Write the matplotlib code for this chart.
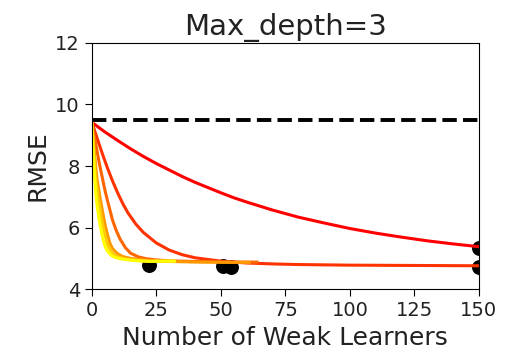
import matplotlib
matplotlib.use("Agg")
import matplotlib.pyplot as plt
import numpy as np

# Curve data (number of weak learners, RMSE)
x1 = [0, 5, 10, 15, 20, 25, 30, 35, 40, 45, 50, 55, 60, 70, 80, 90, 100, 110, 120, 130, 140, 150]
y1 = [9.42, 9.11, 8.83, 8.56, 8.31, 8.08, 7.87, 7.66, 7.47, 7.30, 7.13, 6.97, 6.83,
      6.57, 6.34, 6.15, 5.97, 5.82, 5.69, 5.57, 5.47, 5.38]

x2 = [0, 2, 4, 6, 8, 10, 12, 14, 17, 20, 25, 30, 35, 40, 50, 60, 70, 80, 100, 125, 150]
y2 = [9.42, 8.92, 8.42, 7.95, 7.52, 7.13, 6.78, 6.48, 6.12, 5.84, 5.50, 5.27, 5.12, 5.02, 4.91, 4.85, 4.82, 4.80, 4.78, 4.77, 4.76]

x3 = [0, 1, 2, 3, 4, 5, 6, 7, 8, 9.5, 11, 13, 15, 18, 21, 25, 30, 40, 50, 54, 64]
y3 = [9.42, 8.95, 8.50, 8.05, 7.65, 7.25, 6.90, 6.58, 6.25, 5.90, 5.62, 5.35, 5.17, 5.05, 4.99, 4.95, 4.92, 4.90, 4.89, 4.88, 4.88]

x4 = [0, 0.5, 1, 1.5, 2, 3, 4, 5, 6, 7, 8, 10, 12, 15, 20, 25, 30, 40, 51, 61]
y4 = [9.42, 8.90, 8.45, 8.00, 7.60, 7.06, 6.60, 6.15, 5.80, 5.50, 5.32, 5.15, 5.06, 5.00, 4.95, 4.92, 4.90, 4.88, 4.87, 4.87]

x5 = [0, 0.5, 1, 1.5, 2.3, 3, 4, 5, 6, 7, 8.5, 10, 13, 17, 22, 27, 32]
y5 = [9.42, 8.75, 8.10, 7.60, 7.06, 6.70, 6.19, 5.80, 5.48, 5.30, 5.12, 5.05, 4.98, 4.94, 4.91, 4.91, 4.91]

x6 = [0, 0.5, 1, 1.6, 2, 3, 4, 5, 6, 7.5, 9, 11, 14, 18, 22, 27, 32]
y6 = [9.42, 8.60, 7.75, 7.06, 6.75, 6.19, 5.75, 5.42, 5.24, 5.10, 5.03, 4.99, 4.95, 4.92, 4.90, 4.91, 4.91]

# Minimum markers
min_x = [22, 51, 54, 150, 150]
min_y = [4.79, 4.74, 4.72, 5.33, 4.73]

baseline = 9.48

xs = [x1, x2, x3, x4, x5, x6]
ys = [y1, y2, y3, y4, y5, y6]

fig = plt.figure(figsize=(5.1, 3.57), dpi=100)
ax = fig.add_axes([0.180, 0.190, 0.759, 0.690])

cmap = plt.get_cmap("autumn")
n = len(xs)
ax.scatter(min_x, min_y, s=95, color="black")
for i, (xx, yy) in enumerate(zip(xs, ys)):
    ax.plot(xx, yy, color=cmap(i / (n - 1)), lw=2.2)
ax.axhline(baseline, color="black", ls="--", lw=2.8)

ax.set_xlim(0, 150)
ax.set_ylim(4, 12)
ax.set_xticks([0, 25, 50, 75, 100, 125, 150])
ax.set_yticks([4, 6, 8, 10, 12])
ax.tick_params(labelsize=14, length=5, labelcolor="#222222")
ax.set_xlabel("Number of Weak Learners", fontsize=18, color="#222222")
ax.set_ylabel("RMSE", fontsize=18, color="#222222")
ax.set_title("Max_depth=3", fontsize=21, color="#222222")

fig.savefig("out.png", dpi=100)
